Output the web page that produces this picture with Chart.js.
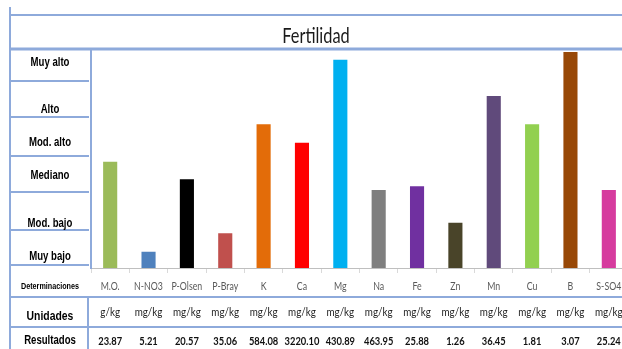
<!DOCTYPE html>
<html>
<head>
<meta charset="utf-8">
<script src="https://cdn.jsdelivr.net/npm/chart.js@4"></script>
<style>
  html, body { margin: 0; background: #fff; overflow: hidden; }
  #wrap { width: 628px; height: 349px; position: relative; }
</style>
</head>
<body>
<div id="wrap"><canvas id="myChart"></canvas></div>
<script>
// data (bar height as % of the plot height)
const determinaciones = ["M.O.", "N-NO3", "P-Olsen", "P-Bray", "K", "Ca", "Mg", "Na", "Fe", "Zn", "Mn", "Cu", "B", "S-SO4"];
const unidades = ["g/kg", "mg/kg", "mg/kg", "mg/kg", "mg/kg", "mg/kg", "mg/kg", "mg/kg", "mg/kg", "mg/kg", "mg/kg", "mg/kg", "mg/kg", "mg/kg"];
const resultados = ["23.87", "5.21", "20.57", "35.06", "584.08", "3220.10", "430.89", "463.95", "25.88", "1.26", "36.45", "1.81", "3.07", "25.24"];
const niveles = [49.0, 7.9, 41.0, 16.3, 66.1, 57.7, 95.6, 36.1, 37.8, 21.1, 79.0, 66.1, 99.1, 36.1];
const barColors = ["#9bbb59", "#4f81bd", "#000000", "#c0504d", "#e36c09", "#ff0000", "#00b0f0", "#7f7f7f", "#7030a0", "#494429", "#604a7b", "#92d050", "#984807", "#d63b9e"];
const levelLabels = ["Muy alto", "Alto", "Mod. alto", "Mediano", "Mod. bajo", "Muy bajo"];

const BODY_FONT = 'Lato, "Open Sans", sans-serif';
const BOLD_FONT = '"Liberation Sans", Arial, sans-serif';
const lineColor = "#8eaadb";
const VIEW_W = 622; // window width, the plot runs a bit past it like in the picture

// text squeezed sideways (the source picture is horizontally compressed)
function narrowText(c, t, x, y, sx) {
  c.save();
  c.translate(x, y);
  c.scale(sx, 1);
  c.fillText(t, 0, 0);
  c.restore();
}

// draws the table around the chart (title, level column, unit / result rows)
const tablePlugin = {
  id: "tabla",
  afterDraw(chart) {
    const c = chart.ctx;
    const x = chart.scales.x;
    c.save();
    c.strokeStyle = lineColor;
    c.lineWidth = 2;
    function line(x1, y1, x2, y2) {
      c.beginPath(); c.moveTo(x1, y1); c.lineTo(x2, y2); c.stroke();
    }
    line(10, 7, 10, 349);
    line(10, 15, VIEW_W, 15);
    c.lineWidth = 3;
    line(10, 49, VIEW_W, 49);
    c.lineWidth = 2;
    [81, 117, 156, 192, 230, 265].forEach(y => line(10, y, 89, y));
    line(10, 297, VIEW_W, 297);
    line(10, 327, VIEW_W, 327);
    line(88, 297, 88, 349);

    c.textAlign = "center";
    c.textBaseline = "middle";
    c.fillStyle = "#1a1a1a";
    c.font = "21px " + BODY_FONT;
    narrowText(c, "Fertilidad", 316, 36, 0.78);

    c.fillStyle = "#000";
    c.font = "bold 12px " + BOLD_FONT;
    const levelY = [63, 110, 143, 176, 224, 257];
    levelLabels.forEach((t, i) => narrowText(c, t, 50, levelY[i], 0.8));

    c.font = "bold 9px " + BOLD_FONT;
    narrowText(c, "Determinaciones", 50, 287, 0.8);
    c.font = "bold 13px " + BOLD_FONT;
    narrowText(c, "Unidades", 50, 316, 0.8);
    c.font = "bold 12px " + BOLD_FONT;
    narrowText(c, "Resultados", 50, 341, 0.8);

    c.font = "11px " + BODY_FONT;
    c.fillStyle = "#595959";
    determinaciones.forEach((d, i) => narrowText(c, d, x.getPixelForValue(i), 286, 0.8));
    c.font = "12px " + BODY_FONT;
    c.fillStyle = "#222";
    unidades.forEach((u, i) => narrowText(c, u, x.getPixelForValue(i), 312, 0.82));
    c.font = "bold 11px " + BODY_FONT;
    c.fillStyle = "#111";
    resultados.forEach((r, i) => narrowText(c, r, x.getPixelForValue(i), 341, 0.85));
    c.restore();
  }
};

const ctx = document.getElementById("myChart").getContext("2d");
const myChart = new Chart(ctx, {
  type: "bar",
  data: {
    labels: determinaciones,
    datasets: [
      {
        label: "Fertilidad",
        data: niveles,
        backgroundColor: barColors,
        borderColor: "rgba(255,255,255,0.35)",
        borderWidth: 1,
        barPercentage: 0.42,
        categoryPercentage: 1,
      },
    ],
  },
  options: {
    responsive: true,
    maintainAspectRatio: false,
    animation: false,
    layout: { padding: { left: 10, top: 49, right: 0, bottom: 0 } },
    plugins: {
      legend: { display: false },
      tooltip: { enabled: false },
    },
    scales: {
      x: {
        afterFit: (s) => { s.height = 81; },
        grid: {
          offset: true,
          drawOnChartArea: false,
          tickLength: 5,
          color: "#d9d9d9",
        },
        border: { color: "#bfbfbf", width: 1 },
        ticks: { display: false },
      },
      y: {
        min: 0,
        max: 100,
        afterFit: (s) => { s.width = 81; },
        grid: { display: false },
        border: { color: lineColor, width: 2 },
        ticks: { display: false },
      },
    },
  },
  plugins: [tablePlugin],
});
</script>
</body>
</html>
